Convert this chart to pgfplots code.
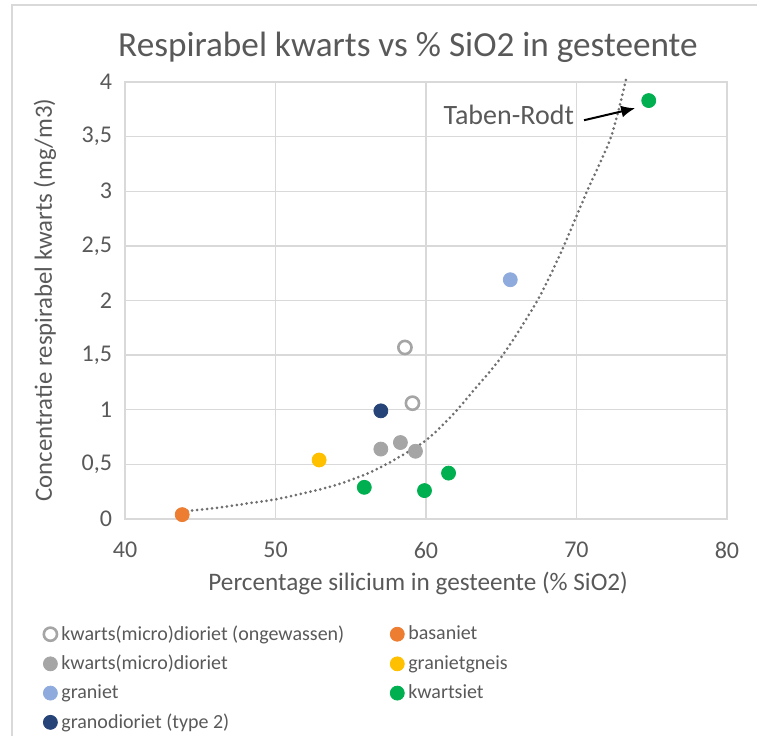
\documentclass[border=0pt]{standalone}
\usepackage{pgfplots}
\pgfplotsset{compat=1.18}
\usetikzlibrary{arrows.meta}
\usepackage{fontspec}
\setmainfont{Carlito}
\definecolor{txt}{HTML}{595959}
\definecolor{gridc}{HTML}{D9D9D9}
\definecolor{cgray}{HTML}{A5A5A5}
\definecolor{corange}{HTML}{ED7D31}
\definecolor{cyellow}{HTML}{FFC000}
\definecolor{clblue}{HTML}{8FAADC}
\definecolor{cgreen}{HTML}{00B050}
\definecolor{cdblue}{HTML}{264478}
\definecolor{trend}{HTML}{6F6F6F}
\begin{document}
\begin{tikzpicture}
\useasboundingbox (0,0) rectangle (378.5pt,368pt);
\draw[gridc, line width=0.8pt] (6pt,0pt) -- (6pt,365.5pt) -- (378.5pt,365.5pt);
\begin{axis}[
  at={(62.5pt,108.5pt)}, anchor=south west,
  scale only axis, width=301pt, height=218.5pt,
  xmin=40, xmax=80, ymin=0, ymax=4,
  xtick={40,50,60,70,80},
  ytick={0,0.5,1,1.5,2,2.5,3,3.5,4},
  /pgf/number format/use comma,
  /pgf/number format/assume math mode=true,
  yticklabel style={/pgf/number format/fixed},
  grid=major, grid style={gridc, line width=0.7pt},
  axis line style={gridc, line width=0.7pt},
  major tick length=0pt,
  tick label style={font=\fontsize{12}{14}\selectfont, text=txt},
  xticklabel style={yshift=-8pt},
  yticklabel style={xshift=-3pt},
  title={Respirabel kwarts vs \% SiO2 in gesteente},
  title style={font=\fontsize{17.6}{20}\selectfont, text=txt, at={(rel axis cs:0.47,1.051)}, anchor=center},
  xlabel={Percentage silicium in gesteente (\% SiO2)},
  xlabel style={font=\fontsize{12.6}{15}\selectfont, text=txt, at={(rel axis cs:0.487,-0.148)}, anchor=center},
  ylabel={Concentratie respirabel kwarts (mg/m3)},
  ylabel style={font=\fontsize{12.4}{15}\selectfont, text=txt, at={(rel axis cs:-0.133,0.501)}, anchor=center, rotate=0},
  clip=false,
  legend columns=2,
  legend image code/.code={\draw plot coordinates {(0pt,0pt)};},
  legend style={at={(-44pt,-49pt)}, anchor=north west, draw=none, fill=none,
    font=\fontsize{10}{12}\selectfont, text=txt, cells={anchor=west},
    /tikz/every even column/.append style={column sep=21pt},
    row sep=2pt},
]
% trend line (exponential)
\addplot[trend, line width=1.5pt, dash pattern=on 0pt off 2.5pt, line cap=round, smooth, forget plot] coordinates {
(43.8,0.07) (46,0.10) (48,0.14) (50,0.18) (52,0.24) (54,0.31) (56,0.41) (57.2,0.49) (58,0.55) (60,0.72) (61.75,0.95) (63,1.15) (65.1,1.5) (67.4,2.0) (69,2.45) (70.7,3.0) (72.3,3.5) (73.3,4.03)};
\addplot[only marks, mark=*, mark size=3.3pt, mark options={draw=cgray, fill=white, line width=1.3pt}]
  coordinates {(58.6,1.57) (59.1,1.06)};
\addlegendentry{kwarts(micro)dioriet (ongewassen)}
\addplot[only marks, mark=*, mark size=3.5pt, mark options={draw=corange, fill=corange}]
  coordinates {(43.8,0.04)};
\addlegendentry{basaniet}
\addplot[only marks, mark=*, mark size=3.5pt, mark options={draw=cgray, fill=cgray}]
  coordinates {(57.0,0.64) (58.3,0.70) (59.3,0.62)};
\addlegendentry{kwarts(micro)dioriet}
\addplot[only marks, mark=*, mark size=3.5pt, mark options={draw=cyellow, fill=cyellow}]
  coordinates {(52.9,0.54)};
\addlegendentry{granietgneis}
\addplot[only marks, mark=*, mark size=3.5pt, mark options={draw=clblue, fill=clblue}]
  coordinates {(65.6,2.19)};
\addlegendentry{graniet}
\addplot[only marks, mark=*, mark size=3.5pt, mark options={draw=cgreen, fill=cgreen}]
  coordinates {(55.9,0.29) (59.9,0.26) (61.5,0.42) (74.8,3.83)};
\addlegendentry{kwartsiet}
\addplot[only marks, mark=*, mark size=3.5pt, mark options={draw=cdblue, fill=cdblue}]
  coordinates {(57.0,0.99)};
\addlegendentry{granodioriet (type 2)}
\node[font=\fontsize{14}{16}\selectfont, text=txt] at (axis cs:65.5,3.70) {Taben-Rodt};
\draw[-{Latex[length=7pt,width=6pt]}, line width=1pt, black] (axis cs:70.5,3.65) -- (axis cs:73.9,3.76);
\end{axis}
\end{tikzpicture}
\end{document}
